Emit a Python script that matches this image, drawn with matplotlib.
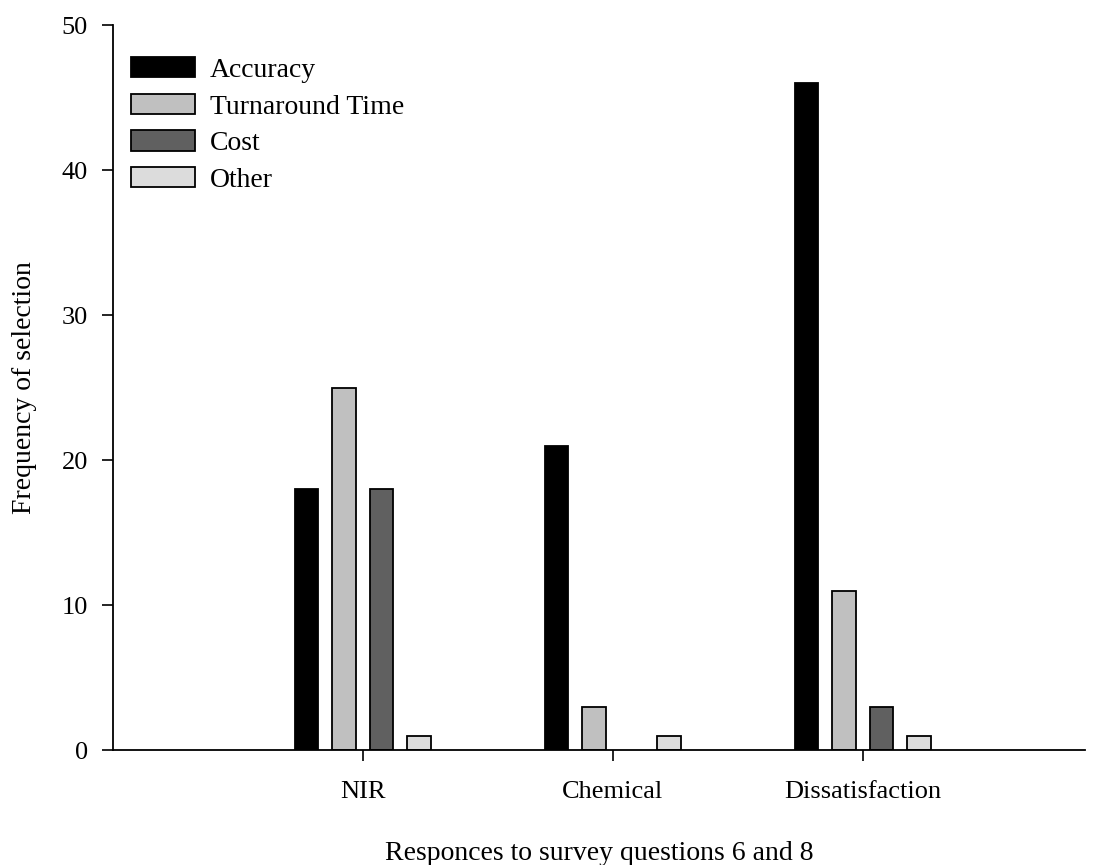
import matplotlib.pyplot as plt
import numpy as np

plt.rcParams['font.family'] = ['Liberation Serif', 'DejaVu Serif']

groups = ["NIR", "Chemical", "Dissatisfaction"]
series = ["Accuracy", "Turnaround Time", "Cost", "Other"]
accuracy = [18, 21, 46]
turnaround = [25, 3, 11]
cost = [18, 0, 3]
other = [1, 1, 1]
colors = ["#000000", "#c0c0c0", "#606060", "#dcdcdc"]

fig = plt.figure(figsize=(11.03, 8.65), dpi=100)
ax = fig.add_axes([0.1024, 0.1329, 0.8813, 0.8381])

x = np.arange(1, len(groups) + 1)
width = 0.094
offsets = [-0.225, -0.075, 0.075, 0.225]
for vals, name, col, off in zip([accuracy, turnaround, cost, other], series, colors, offsets):
    bars = ax.bar(x + off, vals, width, color=col, edgecolor="black", linewidth=1.3, label=name)
    for b in bars:
        if b.get_height() == 0:
            b.set_visible(False)

ax.set_xlim(0, 3.89)
ax.set_ylim(0, 50)
ax.set_xticks(x)
ax.set_xticklabels(groups)
ax.set_yticks([0, 10, 20, 30, 40, 50])
ax.tick_params(axis="both", labelsize=19, direction="out", length=8, width=1.2)
ax.tick_params(axis="x", pad=14)
ax.tick_params(axis="y", pad=10)
for s in ["left", "bottom"]:
    ax.spines[s].set_linewidth(1.3)
ax.spines["top"].set_visible(False)
ax.spines["right"].set_visible(False)
ax.set_xlabel("Responces to survey questions 6 and 8", fontsize=20, labelpad=28)
ax.set_ylabel("Frequency of selection", fontsize=20, labelpad=18)

ax.legend(loc="upper left", frameon=False, fontsize=20, handlelength=2.3,
          handleheight=0.75, handletextpad=0.55, labelspacing=0.39,
          borderpad=0, borderaxespad=0,
          bbox_to_anchor=(131 / 1103, 1 - 57 / 865), bbox_transform=fig.transFigure)

fig.savefig("out.png", dpi=100)
